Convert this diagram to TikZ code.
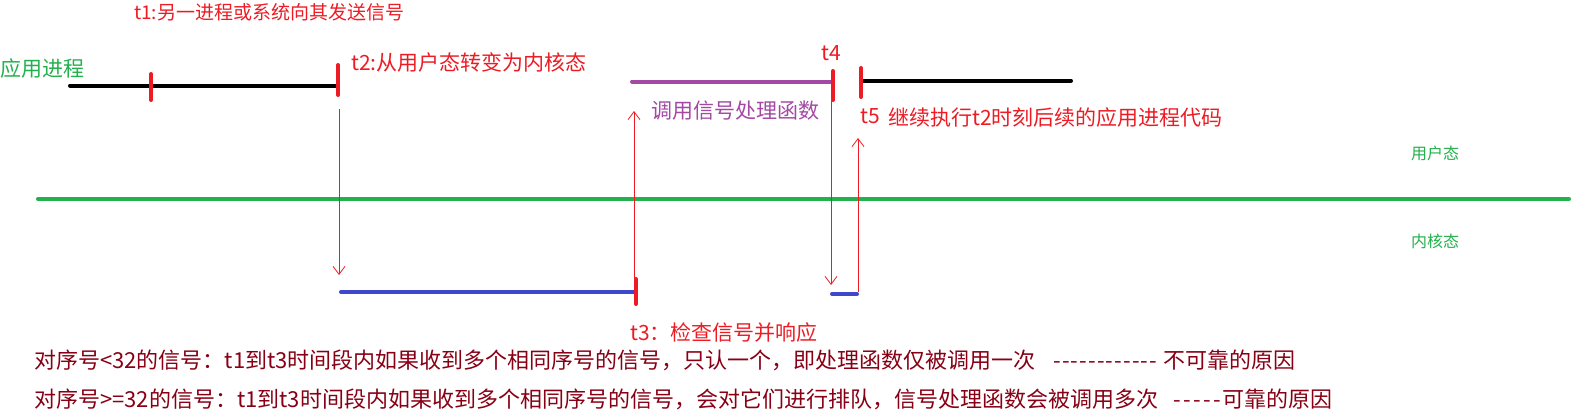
\documentclass[tikz,border=0pt]{standalone}
\usepackage{fontspec}
\setmainfont{Noto Sans CJK SC}[Ligatures=TeXOff]
\usetikzlibrary{arrows.meta}
\definecolor{pred}{HTML}{ED1C24}
\definecolor{pgreen}{HTML}{22B14C}
\definecolor{pblue}{HTML}{3F48CC}
\definecolor{ppurple}{HTML}{A349A4}
\definecolor{pdark}{HTML}{880015}
\newcommand\hy{\makebox[8.75pt]{-}}
\newcommand\hyw{\makebox[10pt]{-}}
\tikzset{
  lbl/.style={inner sep=0pt, anchor=west, font=\fontsize{21}{24}\selectfont},
  lbls/.style={inner sep=0pt, anchor=west, font=\fontsize{19}{22}\selectfont},
  note/.style={inner sep=0pt, anchor=west, font=\fontsize{22}{24}\selectfont},
  small/.style={inner sep=0pt, anchor=west, font=\fontsize{16}{19}\selectfont},
  seg/.style={line width=4pt, line cap=round},
  tick/.style={pred, line width=4pt, line cap=round},
  sig/.style={pred, line width=0.8pt, -{Straight Barb[length=8pt,width=12pt,line width=0.8pt]}},
}
\begin{document}
\begin{tikzpicture}[x=1pt,y=-1pt]
\useasboundingbox[fill=white] (0,0) rectangle (1578,418);
% coordinates
\coordinate (a1) at (70,85.5);
\coordinate (a2) at (338,85.5);
\coordinate (t1a) at (151,74);
\coordinate (t1b) at (151,100);
\coordinate (t2a) at (338,65);
\coordinate (t2b) at (338,95);
\coordinate (p1) at (632,81.5);
\coordinate (p2) at (832,81.5);
\coordinate (t4a) at (833,71);
\coordinate (t4b) at (833,100);
\coordinate (t5a) at (861,68);
\coordinate (t5b) at (861,97);
\coordinate (b1) at (861,80.5);
\coordinate (b2) at (1071,80.5);
\coordinate (g1) at (38,199);
\coordinate (g2) at (1569,199);
\coordinate (k1) at (341,292);
\coordinate (k2) at (635,292);
\coordinate (t3a) at (636,279);
\coordinate (t3b) at (636,304);
\coordinate (k3) at (832,294);
\coordinate (k4) at (857,294);
\coordinate (d1s) at (339,109);
\coordinate (d1e) at (339,275);
\coordinate (u1s) at (634,289);
\coordinate (u1e) at (634,111);
\coordinate (d2s) at (831,101);
\coordinate (d2e) at (831,285);
\coordinate (u2s) at (858,292);
\coordinate (u2e) at (858,138);
% lines
\draw[seg] (a1) -- (a2);
\draw[seg, ppurple] (p1) -- (p2);
\draw[seg] (b1) -- (b2);
\draw[seg, pgreen] (g1) -- (g2);
\draw[seg, pblue] (k1) -- (k2);
\draw[seg, pblue] (k3) -- (k4);
\draw[tick] (t1a) -- (t1b);
\draw[tick] (t2a) -- (t2b);
\draw[tick] (t4a) -- (t4b);
\draw[tick] (t5a) -- (t5b);
\draw[tick] (t3a) -- (t3b);
% arrows
\draw[sig] (d1s) -- (d1e);
\draw[sig] (u1s) -- (u1e);
\draw[sig] (d2s) -- (d2e);
\draw[sig] (u2s) -- (u2e);
% labels
\node[lbl, pgreen] (app) at (0,68.5) {应用进程};
\node[lbls, pred] (lt1) at (134,12) {t1:另一进程或系统向其发送信号};
\node[lbl, pred] (lt2) at (351,62.5) {t2:从用户态转变为内核态};
\node[lbl, pred] (lt4) at (821,53.5) {t4};
\node[lbl, ppurple] (lfn) at (651,111) {调用信号处理函数};
\node[lbl, pred] (lt5) at (860,116) {t5};
\node[lbl, pred] (lcont) at (888,118) {继续执行t2时刻后续的应用进程代码};
\node[small, pgreen] (user) at (1411,153) {用户态};
\node[small, pgreen] (kern) at (1411,241.5) {内核态};
\node[lbl, pred] (lt3) at (630,333) {t3：检查信号并响应};
\node[note, pdark] (n1) at (34,360) {对序号<32的信号：t1到t3时间段内如果收到多个相同序号的信号，只认一个，即处理函数仅被调用一次\hspace{17pt}\hy\hy\hy\hy\hy\hy\hy\hy\hy\hy\hy\hy\hspace{6pt}不可靠的原因};
\node[note, pdark] (n2) at (34,399) {对序号>=32的信号：t1到t3时间段内如果收到多个相同序号的信号，会对它们进行排队，信号处理函数会被调用多次\hspace{14pt}\hyw\hyw\hyw\hyw\hyw 可靠的原因};
\end{tikzpicture}
\end{document}
